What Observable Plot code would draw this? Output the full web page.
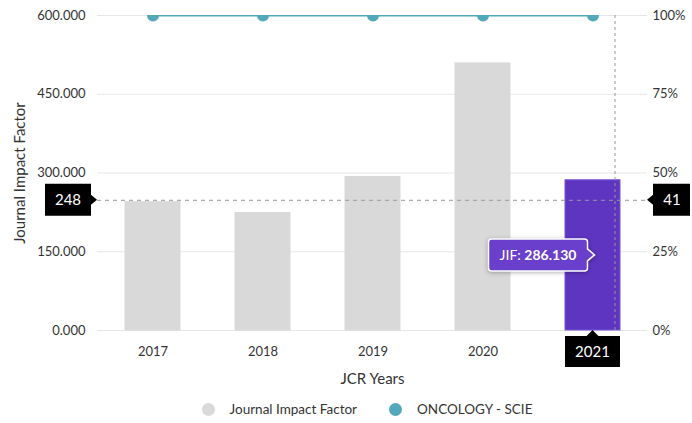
<!DOCTYPE html>
<html>
<head>
<meta charset="utf-8">
<script src="https://cdn.jsdelivr.net/npm/d3@7"></script>
<script src="https://cdn.jsdelivr.net/npm/@observablehq/plot@0.6"></script>
<style>
  body { margin: 0; background: #fff; font-family: Lato, "Noto Sans", sans-serif; }
  #chart svg { display: block; overflow: visible; }
  #legend { display: flex; justify-content: center; align-items: center; height: 28px; font-size: 13.5px; color: #333; padding-left: 42px;}
  .li { display: flex; align-items: center; margin: 0 16px; }
  .sw { width: 13px; height: 13px; border-radius: 50%; margin-right: 15px; }
</style>
</head>
<body>
<div id="chart"></div>
<div id="legend"></div>
<script>
const years = ["2017", "2018", "2019", "2020", "2021"];
const jifValues = [244.585, 223.679, 292.278, 508.702, 286.130];
const categoryPercent = [100, 100, 100, 100, 100];
const yTicks = [0, 150, 300, 450, 600];
const percentTickLabels = ["0%", "25%", "50%", "75%", "100%"];
const seriesNames = ["Journal Impact Factor", "ONCOLOGY - SCIE"];
const axisTitles = {x: "JCR Years", y: "Journal Impact Factor"};
const selectedYear = "2021";
const crosshairJif = 248;
const crosshairPercent = 41;

const gray = "#d9d9d9", purple = "#5e35c0", teal = "#52a9b9";
const data = years.map((y, i) => ({year: y, jif: jifValues[i], pct: categoryPercent[i]}));
const pctToJif = p => p / 100 * 600;
const font = "Lato, 'Noto Sans', sans-serif";

const chart = Plot.plot({
  width: 692,
  height: 395,
  marginTop: 15,
  marginBottom: 65,
  marginLeft: 97,
  marginRight: 45,
  style: {fontFamily: font, fontSize: "13px", color: "#333"},
  x: {domain: years, paddingInner: 0.5, paddingOuter: 0.25, label: null},
  y: {domain: [0, 600], label: null},
  marks: [
    Plot.gridY(yTicks, {stroke: "#e6e6e6", strokeOpacity: 1, strokeWidth: 1}),
    Plot.barY(data, {x: "year", y: "jif", fill: d => d.year === selectedYear ? purple : gray,
      stroke: d => d.year === selectedYear ? "#7a55d6" : gray, strokeWidth: 1}),
    Plot.ruleY([crosshairJif], {stroke: "#999", strokeDasharray: "4,4", strokeWidth: 1}),
    Plot.ruleX([selectedYear], {dx: 22, stroke: "#999", strokeDasharray: "3,3", strokeWidth: 1}),
    Plot.line(data, {x: "year", y: d => pctToJif(d.pct), stroke: teal, strokeWidth: 2, clip: true}),
    Plot.dot(data, {x: "year", y: d => pctToJif(d.pct), r: 6, fill: teal, stroke: "none", clip: true}),
    Plot.axisY(yTicks, {anchor: "left", tickSize: 0, tickPadding: 12, tickFormat: d3.format(".3f"), label: null, fontSize: 13}),
    Plot.axisY(yTicks, {anchor: "right", tickSize: 0, tickPadding: 5,
      tickFormat: d => percentTickLabels[yTicks.indexOf(d)], label: null, fontSize: 13}),
    Plot.axisX(years.filter(y => y !== selectedYear), {tickSize: 0, tickPadding: 16, label: null, fontSize: 13}),
    Plot.text([axisTitles.y], {frameAnchor: "left", dx: -77, rotate: -90, textAnchor: "middle", fontSize: 15, fill: "#333"}),
    Plot.text([axisTitles.x], {frameAnchor: "bottom", dy: 53, fontSize: 15, fill: "#333"})
  ]
});
document.getElementById("chart").appendChild(chart);

// Overlay callouts using the plot's scales
const sx = chart.scale("x"), sy = chart.scale("y");
const svg = d3.select(chart);
const yC = sy.apply(crosshairJif);
const left = 97, right = 647;
const g = svg.append("g").attr("font-family", font);

// left crosshair label
g.append("path").attr("d", `M${left-52},${yC-16} H${left-6} V${yC-5} L${left},${yC} L${left-6},${yC+5} V${yC+16} H${left-52} Z`).attr("fill", "#000");
g.append("text").attr("x", left - 29).attr("y", yC).attr("dy", "0.35em").attr("text-anchor", "middle")
  .attr("fill", "#fff").attr("font-size", 15).text(crosshairJif);
// right crosshair label
g.append("path").attr("d", `M${right+43},${yC-16} H${right+6} V${yC-5} L${right},${yC} L${right+6},${yC+5} V${yC+16} H${right+43} Z`).attr("fill", "#000");
g.append("text").attr("x", right + 25).attr("y", yC).attr("dy", "0.35em").attr("text-anchor", "middle")
  .attr("fill", "#fff").attr("font-size", 15).text(crosshairPercent);

// selected year label box
const bx = sx.apply(selectedYear), bw = sx.bandwidth, bottom = sy.apply(0);
const cx = bx + bw / 2;
g.append("path").attr("d", `M${bx},${bottom+6} H${cx-6} L${cx},${bottom} L${cx+6},${bottom+6} H${bx+bw} V${bottom+37} H${bx} Z`).attr("fill", "#000");
g.append("text").attr("x", cx).attr("y", bottom + 22).attr("dy", "0.35em").attr("text-anchor", "middle")
  .attr("fill", "#fff").attr("font-size", 15).text(selectedYear);

// tooltip
const sel = data.find(d => d.year === selectedYear);
const ty = sy.apply(sel.jif / 2);
const tipX = cx + 22 - 20;
const tr = tipX - 7, tl = tr - 99;
g.append("path").attr("d", `M${tl+3},${ty-16} H${tr-3} Q${tr},${ty-16} ${tr},${ty-13} V${ty-6} L${tipX},${ty} L${tr},${ty+6} V${ty+13} Q${tr},${ty+16} ${tr-3},${ty+16} H${tl+3} Q${tl},${ty+16} ${tl},${ty+13} V${ty-13} Q${tl},${ty-16} ${tl+3},${ty-16} Z`)
  .attr("fill", "#6a3fcb").attr("stroke", "#fff").attr("stroke-width", 1.5).style("filter", "drop-shadow(0 1px 2px rgba(0,0,0,0.3))");
const tt = g.append("text").attr("x", (tl + tr) / 2).attr("y", ty).attr("dy", "0.35em").attr("text-anchor", "middle")
  .attr("fill", "#fff").attr("font-size", 14);
tt.append("tspan").text("JIF: ");
tt.append("tspan").attr("font-weight", "bold").text(d3.format(".3f")(sel.jif));

// legend
const legend = d3.select("#legend");
[gray, teal].forEach((c, i) => {
  const it = legend.append("div").attr("class", "li");
  it.append("div").attr("class", "sw").style("background", c);
  it.append("span").text(seriesNames[i]);
});
</script>
</body>
</html>
